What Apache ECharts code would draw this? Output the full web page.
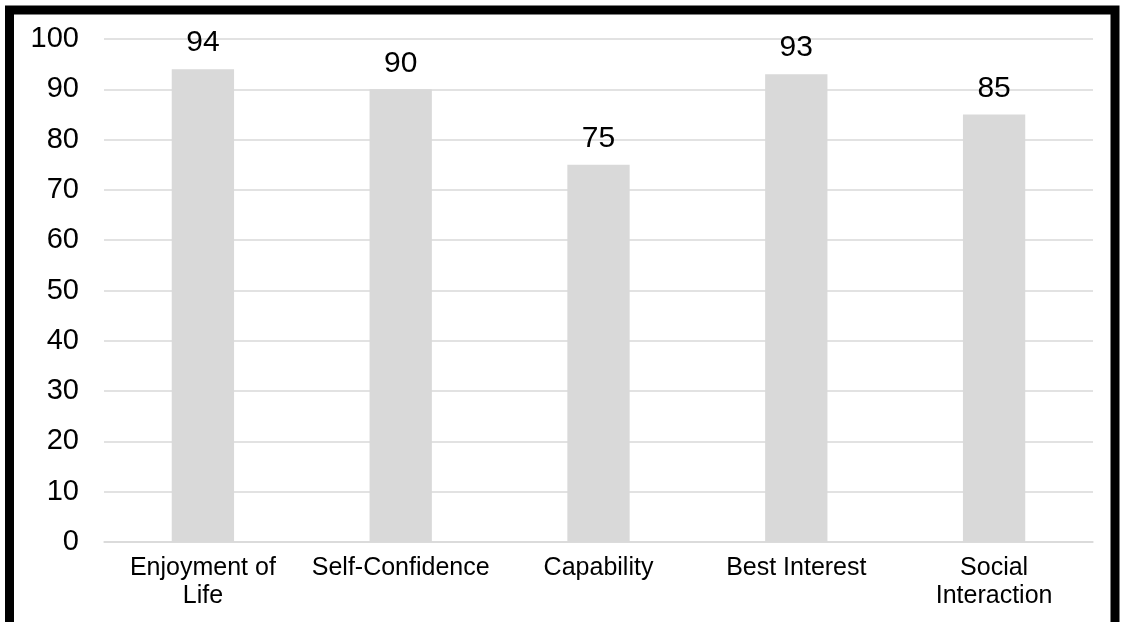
<!DOCTYPE html>
<html>
<head>
<meta charset="utf-8">
<script src="https://cdn.jsdelivr.net/npm/echarts@6/dist/echarts.min.js"></script>
<style>
html,body{margin:0;padding:0;background:#fff;}
#chart{width:1121px;height:622px;}
</style>
</head>
<body>
<div id="chart"></div>
<script>
const categories = ["Enjoyment of\nLife", "Self-Confidence", "Capability", "Best Interest", "Social\nInteraction"];
const values = [94, 90, 75, 93, 85];
const yTicks = { min: 0, max: 100, interval: 10 };

const chart = echarts.init(document.getElementById('chart'), null, { renderer: 'canvas' });
const font = '"Liberation Sans", Arial, Helvetica, sans-serif';
chart.setOption({
  animation: false,
  backgroundColor: '#ffffff',
  graphic: [{
    type: 'polyline',
    shape: { points: [[9.5, 622], [9.5, 10], [1115, 10], [1115, 622]] },
    style: { stroke: '#000', lineWidth: 9, fill: null },
    z: 100
  }],
  grid: { left: 104, right: 28, top: 39, bottom: 80 },
  xAxis: {
    type: 'category',
    data: categories,
    axisTick: { show: false },
    axisLine: { lineStyle: { color: '#d9d9d9', width: 1.5 } },
    axisLabel: { color: '#000', fontSize: 25, fontFamily: font, lineHeight: 28, margin: 12, interval: 0 }
  },
  yAxis: {
    type: 'value',
    min: yTicks.min, max: yTicks.max, interval: yTicks.interval,
    axisLine: { show: false },
    axisTick: { show: false },
    axisLabel: { color: '#000', fontSize: 29, fontFamily: font, margin: 25 },
    splitLine: { lineStyle: { color: '#d9d9d9', width: 1.5 } }
  },
  series: [{
    type: 'bar',
    data: values,
    barWidth: '31.5%',
    itemStyle: { color: '#d9d9d9' },
    label: { show: true, position: 'top', distance: 11, color: '#000', fontSize: 30, fontFamily: font }
  }]
});
</script>
</body>
</html>
